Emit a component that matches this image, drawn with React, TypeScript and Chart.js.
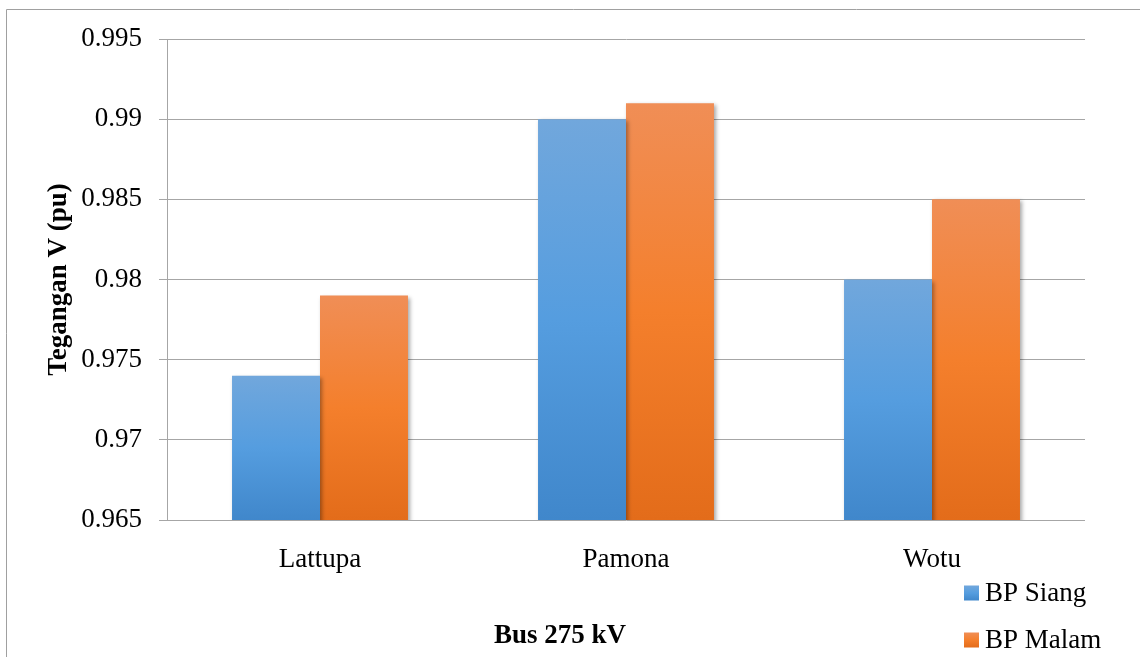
import React, { useEffect, useRef } from "react";
import { Chart, registerables } from "chart.js";

Chart.register(...registerables);

const categories = ["Lattupa", "Pamona", "Wotu"];
const bpSiang = [0.974, 0.99, 0.98];
const bpMalam = [0.979, 0.991, 0.985];
const seriesNames = ["BP Siang", "BP Malam"];
const yMin = 0.965;
const yMax = 0.995;
const yStep = 0.005;
const yTitle = "Tegangan V (pu)";
const xTitle = "Bus 275 kV";

const FONT = "'Times New Roman', 'Liberation Serif', serif";
const GRID = "#a6a6a6";
const blueStops = ["#71a7dc", "#559ddf", "#4087cb"];
const orangeStops = ["#f08e56", "#f47f2c", "#e36c1a"];

function barGradient(stops: string[]) {
  return (ctx: any) => {
    const chart = ctx.chart;
    const y = chart.scales?.y;
    if (!y || ctx.type !== "data" || ctx.parsed == null) return stops[1];
    const top = y.getPixelForValue(ctx.parsed.y);
    const bottom = y.getPixelForValue(yMin);
    if (!isFinite(top) || !isFinite(bottom) || top === bottom) return stops[1];
    const g = chart.ctx.createLinearGradient(0, top, 0, bottom);
    g.addColorStop(0, stops[0]);
    g.addColorStop(0.5, stops[1]);
    g.addColorStop(1, stops[2]);
    return g;
  };
}

const decorPlugin = {
  id: "decor",
  beforeDraw(chart: any) {
    const ctx = chart.ctx;
    ctx.save();
    ctx.strokeStyle = "#a0a0a0";
    ctx.lineWidth = 1;
    ctx.beginPath();
    ctx.moveTo(6.5, chart.height);
    ctx.lineTo(6.5, 9.5);
    ctx.lineTo(chart.width, 9.5);
    ctx.stroke();
    ctx.restore();
  },
  beforeDatasetsDraw(chart: any) {
    const ctx = chart.ctx;
    ctx.save();
    ctx.shadowColor = "rgba(0,0,0,0.35)";
    ctx.shadowBlur = 4;
    ctx.shadowOffsetX = 2;
    ctx.shadowOffsetY = 2;
  },
  afterDatasetsDraw(chart: any) {
    chart.ctx.restore();
  },
  afterDraw(chart: any) {
    const ctx = chart.ctx;
    const area = chart.chartArea;
    ctx.save();
    // x-axis title
    ctx.fillStyle = "#000";
    ctx.font = `bold 27px ${FONT}`;
    ctx.textAlign = "center";
    ctx.textBaseline = "middle";
    ctx.fillText(xTitle, area.left + (area.right - area.left) * 0.428, area.bottom + 116);
    // legend
    const colors = [blueStops, orangeStops];
    ctx.font = `27px ${FONT}`;
    ctx.textAlign = "left";
    seriesNames.forEach((name, i) => {
      const x = area.right - 121;
      const cy = area.bottom + 73 + i * 47;
      const g = ctx.createLinearGradient(0, cy - 7.5, 0, cy + 7.5);
      g.addColorStop(0, colors[i][0]);
      g.addColorStop(0.5, colors[i][1]);
      g.addColorStop(1, colors[i][2]);
      ctx.fillStyle = g;
      ctx.fillRect(x, cy - 7.5, 15, 15);
      ctx.fillStyle = "#000";
      ctx.fillText(name, x + 21, cy + 1);
    });
    ctx.restore();
  },
};

export default function App() {
  const ref = useRef<HTMLCanvasElement>(null);
  useEffect(() => {
    if (!ref.current) return;
    const chart = new Chart(ref.current, {
      type: "bar",
      data: {
        labels: categories,
        datasets: [
          { label: seriesNames[0], data: bpSiang, backgroundColor: barGradient(blueStops) as any },
          { label: seriesNames[1], data: bpMalam, backgroundColor: barGradient(orangeStops) as any },
        ],
      },
      plugins: [decorPlugin],
      options: {
        animation: false,
        responsive: false,
        maintainAspectRatio: false,
        layout: { padding: { left: 0, right: 55, top: 39, bottom: 0 } },
        datasets: { bar: { categoryPercentage: 0.575, barPercentage: 1.0 } },
        plugins: { legend: { display: false }, tooltip: { enabled: false } },
        scales: {
          x: {
            grid: { display: false },
            border: { display: false },
            ticks: { color: "#000", font: { family: FONT, size: 27 }, padding: 16 },
            afterFit: (s: any) => { s.height = 137; },
          },
          y: {
            min: yMin,
            max: yMax,
            grid: { color: GRID, lineWidth: 1, tickLength: 8 },
            border: { color: GRID, width: 1 },
            ticks: {
              stepSize: yStep,
              color: "#000",
              padding: 17,
              font: { family: FONT, size: 27 },
              callback: (v: any) => String(parseFloat(Number(v).toFixed(3))),
            },
            title: {
              display: true,
              text: yTitle,
              color: "#000",
              font: { family: FONT, size: 27, weight: "bold" },
              padding: { top: 43, bottom: 0 },
            },
            afterFit: (s: any) => { s.width = 167; },
          },
        },
      },
    });
    return () => chart.destroy();
  }, []);
  return (
    <div style={{ position: "absolute", left: 0, top: 0, width: 1140, height: 657, background: "#fff" }}>
      <canvas ref={ref} width={1140} height={657} style={{ display: "block" }} />
    </div>
  );
}
